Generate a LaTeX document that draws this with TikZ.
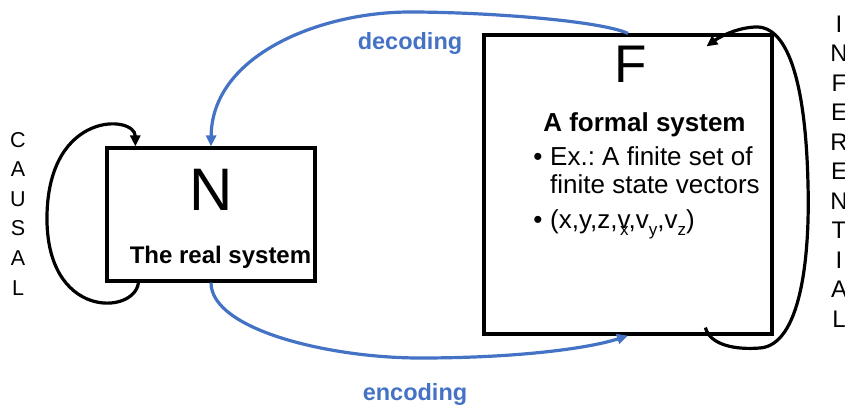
\documentclass[tikz,border=0pt]{standalone}
\usepackage{fontspec}
\setmainfont{Liberation Sans}
\usetikzlibrary{arrows.meta,calc}
\definecolor{arrowblue}{RGB}{68,114,196}
\newcommand{\lowsub}[1]{\raisebox{-0.3em}{\fontsize{17}{17}\selectfont #1}}
\frenchspacing
\begin{document}
\begin{tikzpicture}[x=1pt,y=-1pt,
  sysbox/.style={draw=black,line width=3.2pt,inner sep=0pt},
  loopline/.style={draw=black,line width=3.2pt,-{Triangle[length=11pt,width=10pt]}},
  codearrow/.style={draw=arrowblue,line width=3.2pt,-{Triangle[length=11pt,width=10pt]}},
  codelabel/.style={text=arrowblue,font=\fontsize{23.5}{28}\selectfont\bfseries,inner sep=0pt},
  vertword/.style={align=center,inner sep=0pt},
  itemtext/.style={font=\fontsize{26}{30}\selectfont,inner sep=0pt,anchor=base west},
  bul/.style={font=\fontsize{26}{30}\selectfont,inner sep=0pt,anchor=base}]
\useasboundingbox (0,0) rectangle (845,404);
% boxes
\node[sysbox,minimum width=208pt,minimum height=133pt] (N) at (211,214.5) {};
\node[sysbox,minimum width=288pt,minimum height=299pt] (F) at (628,184.5) {};
% texts in N
\node[font=\fontsize{60}{60}\selectfont,inner sep=0pt] (Nletter) at (211,190) {N};
\node[font=\fontsize{24}{28}\selectfont\bfseries,inner sep=0pt,anchor=base] (Ntitle) at (220.5,263) {The real system};
% texts in F
\node[font=\fontsize{53}{53}\selectfont,inner sep=0pt] (Fletter) at (631,64) {F};
\node[font=\fontsize{26}{30}\selectfont\bfseries,inner sep=0pt,anchor=base] (Ftitle) at (644.5,131) {A formal system};
\node[bul] (b1) at (538,165) {\textbullet};
\node[itemtext] (t1) at (550,165) {Ex.: A finite set of};
\node[itemtext] (t2) at (550,193) {finite state vectors};
\node[bul] (b2) at (538,228) {\textbullet};
\node[itemtext] (t3) at (550,228) {(x,y,z,v\kern-0.4em\lowsub{x},v\lowsub{y},v\lowsub{z})};
% vertical words
\node[vertword,font=\fontsize{21.5}{29.6}\selectfont] (causal) at (18,213.5) {C\\A\\U\\S\\A\\L};
\node[vertword,font=\fontsize{24}{29.5}\selectfont] (inferential) at (839,171.5) {I\\N\\F\\E\\R\\E\\N\\T\\I\\A\\L};
% labels
\node[codelabel,anchor=base] (dec) at (410,49) {decoding};
\node[codelabel,anchor=base] (enc) at (415,400) {encoding};
% blue arrows
\draw[codearrow] (F.north) .. controls (598,20) and (480,12) .. (410,12) .. controls (320,12) and (212,55) .. (N.north);
\draw[codearrow] (N.south) .. controls (211,330) and (330,358) .. (420,358) .. controls (520,358) and (590,348) .. (F.south);
% loops
\draw[loopline] ($(N.south west)+(33,0)$) .. controls (135,315) and (45,320) .. (47,215) .. controls (49,110) and (135,115) .. ($(N.north west)+(30,0)$);
\draw[loopline] ($(F.south west)+(223,-8)$) .. controls (710,345) and (735,350) .. (760,348) .. controls (800,345) and (810,260) .. (808,185) .. controls (806,90) and (790,25) .. (755,27) .. controls (735,28) and (718,38) .. ($(F.north west)+(224,13)$);
\end{tikzpicture}
\end{document}
